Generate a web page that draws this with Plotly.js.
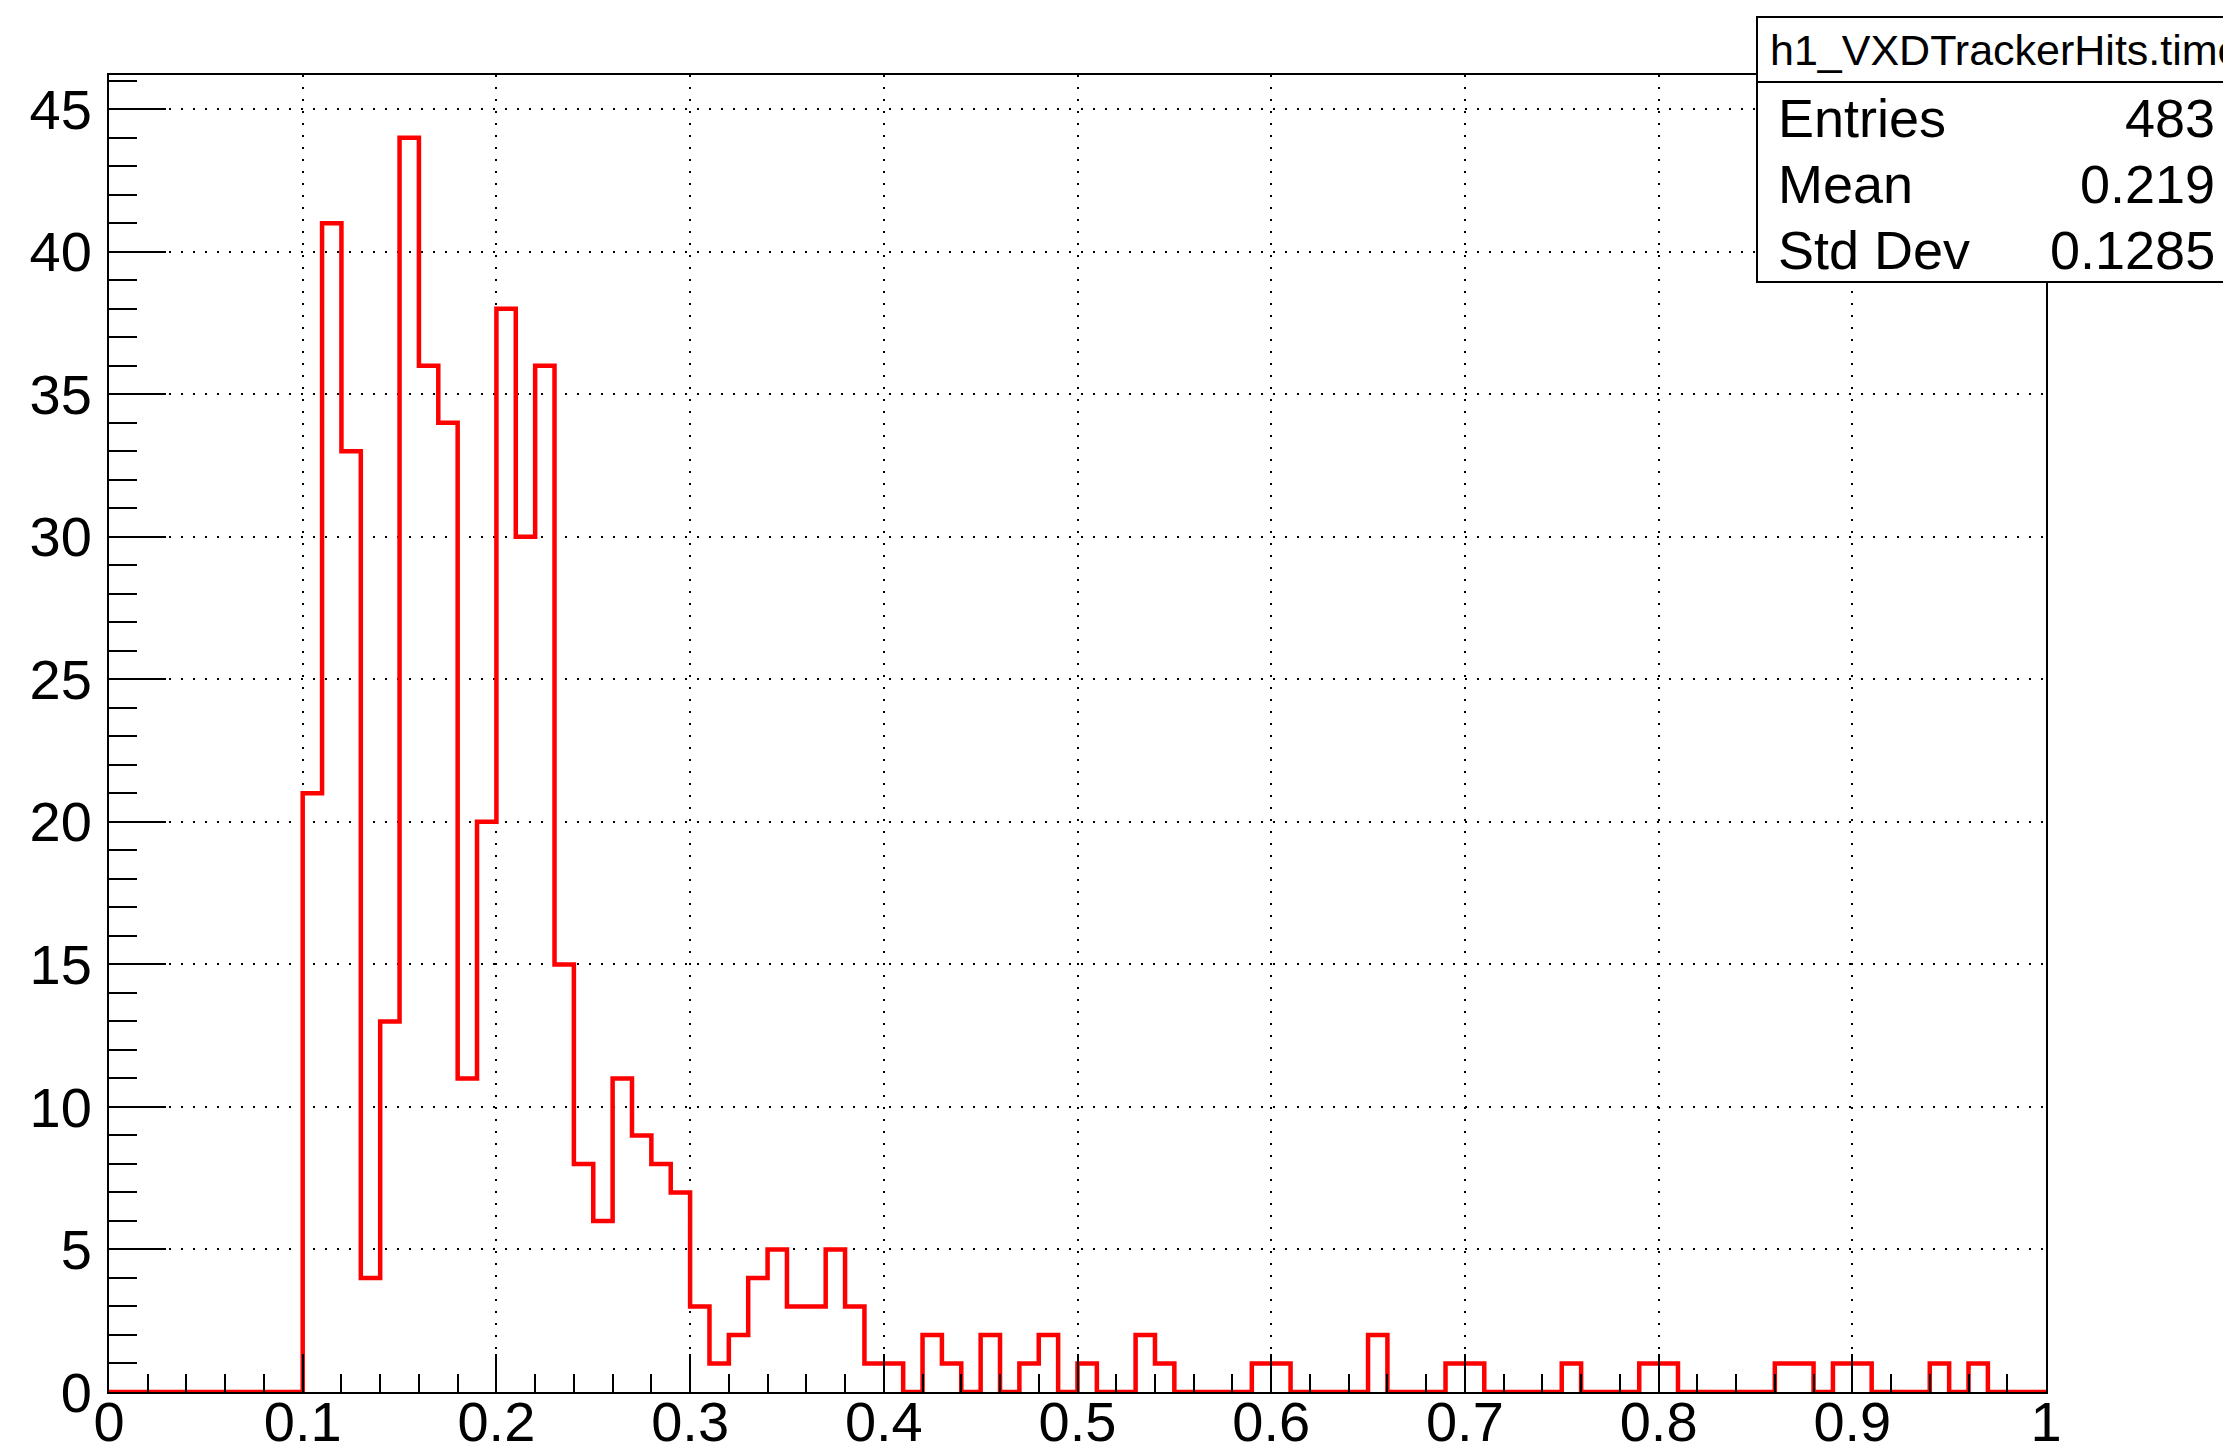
<!DOCTYPE html>
<html>
<head>
<meta charset="utf-8">
<script src="https://cdn.plot.ly/plotly-3.0.1.min.js"></script>
<style>html,body{margin:0;padding:0;background:#fff;}#chart{width:2223px;height:1451px;}</style>
</head>
<body>
<div id="chart"></div>
<script>
// Histogram h1_VXDTrackerHits.time : 100 bins from 0 to 1
const histName = "h1_VXDTrackerHits.time";
const xMin = 0;
const xMax = 1;
const counts = [
  0, 0, 0, 0, 0, 0, 0, 0, 0, 0,
  21, 41, 33, 4, 13, 44, 36, 34, 11, 20,
  38, 30, 36, 15, 8, 6, 11, 9, 8, 7,
  3, 1, 2, 4, 5, 3, 3, 5, 3, 1,
  1, 0, 2, 1, 0, 2, 0, 1, 2, 0,
  1, 0, 0, 2, 1, 0, 0, 0, 0, 1,
  1, 0, 0, 0, 0, 2, 0, 0, 0, 1,
  1, 0, 0, 0, 0, 1, 0, 0, 0, 1,
  1, 0, 0, 0, 0, 0, 1, 1, 0, 1,
  1, 0, 0, 0, 1, 0, 1, 0, 0, 0
];
const statLabels = ["Entries", "Mean", "Std Dev"];
const statValues = ["483", "0.219", "0.1285"];
const xTickVals = [0, 0.1, 0.2, 0.3, 0.4, 0.5, 0.6, 0.7, 0.8, 0.9, 1];
const xTickText = ["0", "0.1", "0.2", "0.3", "0.4", "0.5", "0.6", "0.7", "0.8", "0.9", "1"];
const yTickVals = [0, 5, 10, 15, 20, 25, 30, 35, 40, 45];
const yTickText = ["0", "5", "10", "15", "20", "25", "30", "35", "40", "45"];

// step outline from bin edges
const nBins = counts.length;
const binW = (xMax - xMin) / nBins;
const stepX = [], stepY = [];
for (let i = 0; i < nBins; i++) { stepX.push(xMin + i * binW); stepY.push(counts[i]); }
stepX.push(xMax); stepY.push(counts[nBins - 1]);

const FONT = "Liberation Sans, Arial, Helvetica, sans-serif";
const W = 2223, H = 1451;
const L = 109, R = 2046, T = 75, B = 1392;
const px = v => (v - L) / (R - L);
const py = v => (B - v) / (B - T);

const trace = {
  type: "scatter", mode: "lines", x: stepX, y: stepY,
  line: {shape: "hv", color: "#ff0000", width: 4.5},
  hoverinfo: "skip", showlegend: false
};

const axisCommon = {
  showline: true, linecolor: "#000", linewidth: 2, mirror: true,
  ticks: "inside", tickcolor: "#000", tickwidth: 2,
  showgrid: true, gridcolor: "#000", gridwidth: 2, griddash: "2px,10px",
  zeroline: false, tickfont: {family: FONT, size: 56, color: "#000"},
  fixedrange: true
};

const layout = {
  width: W, height: H,
  margin: {l: L, r: W - R, t: T, b: H - B, pad: 0},
  paper_bgcolor: "#fff", plot_bgcolor: "#fff",
  showlegend: false,
  xaxis: Object.assign({}, axisCommon, {
    range: [xMin, xMax], tickmode: "array", tickvals: xTickVals, ticktext: xTickText,
    ticklen: 38, ticklabelstandoff: -20,
    minor: {dtick: 0.02, tick0: 0, ticks: "inside", ticklen: 18, tickwidth: 2, tickcolor: "#000", showgrid: false}
  }),
  yaxis: Object.assign({}, axisCommon, {
    range: [0, 46.2], tickmode: "array", tickvals: yTickVals, ticktext: yTickText,
    ticklen: 57, ticklabelstandoff: 4,
    minor: {dtick: 1, tick0: 0, ticks: "inside", ticklen: 28, tickwidth: 2, tickcolor: "#000", showgrid: false}
  }),
  shapes: [
    {type: "rect", xref: "paper", yref: "paper", x0: px(1757), x1: px(2240), y0: py(282), y1: py(17),
     line: {color: "#000", width: 2}, fillcolor: "#fff", layer: "above"},
    {type: "line", xref: "paper", yref: "paper", x0: px(1757), x1: px(2240), y0: py(82), y1: py(82),
     line: {color: "#000", width: 2}, layer: "above"}
  ],
  annotations: []
};

layout.annotations.push({
  xref: "paper", yref: "paper", x: px(1768), y: py(50), xanchor: "left", yanchor: "middle",
  text: histName, showarrow: false, font: {family: FONT, size: 43, color: "#000"}
});
const rowY = [118, 184, 250];
for (let i = 0; i < statLabels.length; i++) {
  layout.annotations.push({
    xref: "paper", yref: "paper", x: px(1776), y: py(rowY[i]), xanchor: "left", yanchor: "middle",
    text: statLabels[i], showarrow: false, font: {family: FONT, size: 54, color: "#000"}
  });
  layout.annotations.push({
    xref: "paper", yref: "paper", x: px(2217), y: py(rowY[i]), xanchor: "right", yanchor: "middle",
    text: statValues[i], showarrow: false, font: {family: FONT, size: 54, color: "#000"}
  });
}

Plotly.newPlot("chart", [trace], layout, {staticPlot: true, displayModeBar: false});
</script>
</body>
</html>
